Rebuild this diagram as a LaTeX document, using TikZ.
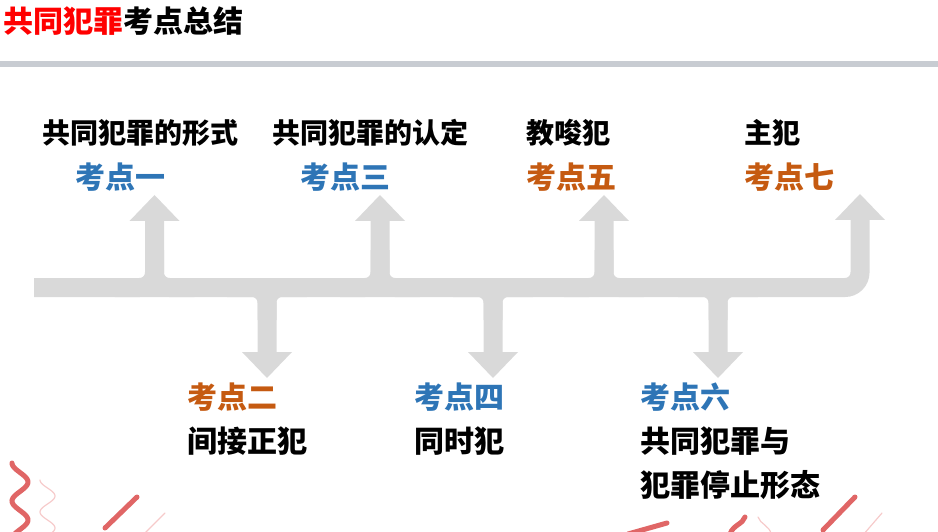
\documentclass[tikz,border=0pt]{standalone}
\usepackage{fontspec}
\newfontfamily\cjk{Noto Sans CJK SC}
\usetikzlibrary{arrows.meta}
\definecolor{kdblue}{HTML}{2E75B6}
\definecolor{kdorange}{HTML}{C55A11}
\definecolor{bandgray}{HTML}{D9D9D9}
\definecolor{rulegray}{HTML}{C8CCD2}
\definecolor{decored}{HTML}{E06666}
\definecolor{decopale}{HTML}{F6CACA}
\begin{document}
\begin{tikzpicture}[x=1pt,y=-1pt,
  band/.style={draw=bandgray,line width=19pt,rounded corners=15pt},
  headtip/.style={-{Triangle[width=50pt,length=26pt,line width=0pt]}},
  toplab/.style={anchor=base west,inner sep=0pt,font=\cjk\bfseries\fontsize{28}{30}\selectfont},
  lab/.style={anchor=base west,inner sep=0pt,font=\cjk\bfseries\fontsize{30}{32}\selectfont},
  deco/.style={draw=decored,line width=5pt,line cap=round},
  decothin/.style={draw=decopale,line width=1.2pt,line cap=round}]

\useasboundingbox (0,0) rectangle (938,532);
\clip (0,0) rectangle (938,532);

\node[lab] (title) at (3,33) {\textcolor{red}{共同犯罪}考点总结};
\fill[rulegray] (0,61) rectangle (938,67);

\coordinate (start) at (34,287.5);
\coordinate (turn) at (860,287.5);
\coordinate (up1) at (154.5,195);
\coordinate (up2) at (380,195);
\coordinate (up3) at (604,195);
\coordinate (up4) at (860,194);
\coordinate (dn1) at (267,378);
\coordinate (dn2) at (493,378);
\coordinate (dn3) at (718,378);

\draw[band,headtip] (start) -- (turn) -- (up4);

\draw[band,headtip] (114.5,287.5) -- (154.5,287.5) -- (up1);
\draw[band] (194.5,287.5) -- (154.5,287.5) -- (154.5,250);
\draw[band,headtip] (340,287.5) -- (380,287.5) -- (up2);
\draw[band] (420,287.5) -- (380,287.5) -- (380,250);
\draw[band,headtip] (564,287.5) -- (604,287.5) -- (up3);
\draw[band] (644,287.5) -- (604,287.5) -- (604,250);

\draw[band,headtip] (227,287.5) -- (267,287.5) -- (dn1);
\draw[band] (307,287.5) -- (267,287.5) -- (267,320);
\draw[band,headtip] (453,287.5) -- (493,287.5) -- (dn2);
\draw[band] (533,287.5) -- (493,287.5) -- (493,320);
\draw[band,headtip] (678,287.5) -- (718,287.5) -- (dn3);
\draw[band] (758,287.5) -- (718,287.5) -- (718,320);

\node[toplab] (t1) at (42,144) {共同犯罪的形式};
\node[lab,text=kdblue] (k1) at (75,189) {考点一};
\node[toplab] (t3) at (272,144) {共同犯罪的认定};
\node[lab,text=kdblue] (k3) at (300,189) {考点三};
\node[toplab] (t5) at (526,144) {教唆犯};
\node[lab,text=kdorange] (k5) at (526,189) {考点五};
\node[toplab] (t7) at (744,144) {主犯};
\node[lab,text=kdorange] (k7) at (744,189) {考点七};

\node[lab,text=kdorange] (k2) at (187,408) {考点二};
\node[lab] (t2) at (187,452.5) {间接正犯};
\node[lab,text=kdblue] (k4) at (414,408) {考点四};
\node[lab] (t4) at (414,452.5) {同时犯};
\node[lab,text=kdblue] (k6) at (640,408) {考点六};
\node[lab] (t6a) at (640,452.5) {共同犯罪与};
\node[lab] (t6b) at (640,496.5) {犯罪停止形态};

\draw[deco] plot[domain=0:77,samples=60,smooth] ({20-8*cos(9.47*\x)},{463+\x});
\draw[decothin] plot[domain=0:60,samples=50,smooth] ({47.5-7.5*cos(11.25*\x)},{480+\x});
\draw[deco] (137,497) -- (105,528);
\draw[decothin] (165,513) -- (143,535);

\draw[deco] (628,534) -- (667,523);
\draw[deco] (745,517) .. controls (743,524) and (733,525) .. (730,534);
\draw[decothin] (758,517) .. controls (760,524) and (770,526) .. (771,534);
\draw[deco] (855,497) -- (823,530);
\draw[decothin] (882,513) -- (863,535);

\end{tikzpicture}
\end{document}
